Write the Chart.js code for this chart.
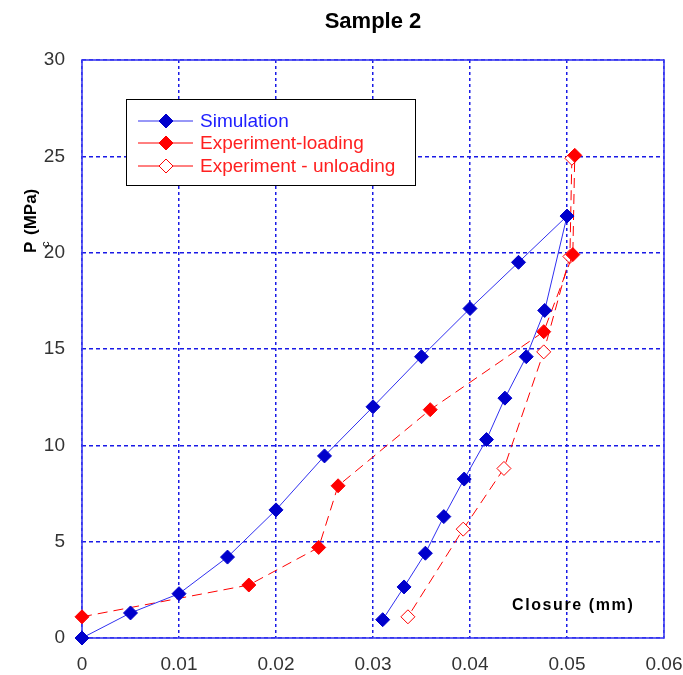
<!DOCTYPE html>
<html>
<head>
<meta charset="utf-8">
<title>Sample 2</title>
<script src="https://cdn.jsdelivr.net/npm/chart.js@4.4.0/dist/chart.umd.min.js"></script>
<style>
  html, body { margin: 0; padding: 0; background: #fff; }
  #wrap { width: 683px; height: 675px; }
</style>
</head>
<body>
<div id="wrap"><canvas id="sampleChart" width="683" height="675"></canvas></div>
<script>
// closure in mm, contact pressure in MPa
const simClosure = [0, 0.005, 0.01, 0.015, 0.02, 0.025, 0.03, 0.035, 0.04, 0.045, 0.05,
                    0.0477, 0.0458, 0.0436, 0.0417, 0.0394, 0.0373, 0.0354, 0.0332, 0.031];
const simPressure = [0, 1.3, 2.3, 4.2, 6.65, 9.45, 12, 14.6, 17.1, 19.5, 21.9,
                     17, 14.6, 12.45, 10.3, 8.25, 6.3, 4.4, 2.65, 0.95];

const loadClosure = [0, 0.0172, 0.0244, 0.0264, 0.0359, 0.0476, 0.0506, 0.0508];
const loadPressure = [1.1, 2.75, 4.7, 7.9, 11.85, 15.9, 19.9, 25.05];

const unloadClosure = [0.0505, 0.0503, 0.0476, 0.0435, 0.0393, 0.0336];
const unloadPressure = [24.9, 19.8, 14.85, 8.8, 5.65, 1.1];

const seriesNames = ['Simulation', 'Experiment-loading', 'Experiment - unloading'];
const xTickValues = [0, 0.01, 0.02, 0.03, 0.04, 0.05, 0.06];
const yTickValues = [0, 5, 10, 15, 20, 25, 30];

const BLUE = '#0000cc';
const RED = '#ff0000';
const GRID = '#1a1ae6';

function toPoints(xs, ys) {
    return xs.map((x, i) => ({ x: x, y: ys[i] }));
}

function diamond(ctx, x, y, r) {
    ctx.beginPath();
    ctx.moveTo(x, y - r);
    ctx.lineTo(x + r, y);
    ctx.lineTo(x, y + r);
    ctx.lineTo(x - r, y);
    ctx.closePath();
}

// frame, legend box and the two axis captions
const decorations = {
    id: 'decorations',
    beforeDatasetsDraw(chart) {
        const { ctx, chartArea: a } = chart;
        ctx.save();
        ctx.strokeStyle = '#3b3bf0';
        ctx.lineWidth = 1.6;
        ctx.strokeRect(a.left, a.top, a.right - a.left, a.bottom - a.top);
        ctx.restore();
    },
    afterDraw(chart) {
        const ctx = chart.ctx;
        ctx.save();

        // legend
        const box = { x: 126, y: 99, w: 289, h: 86 };
        ctx.fillStyle = '#fff';
        ctx.fillRect(box.x, box.y, box.w, box.h);
        ctx.strokeStyle = '#000';
        ctx.lineWidth = 1;
        ctx.strokeRect(box.x + 0.5, box.y + 0.5, box.w, box.h);

        const rowY = [121, 143, 166];
        const textColors = ['#2020ff', '#ff2020', '#ff2020'];
        chart.data.datasets.forEach((ds, i) => {
            const y = rowY[i];
            ctx.strokeStyle = ds.borderColor;
            ctx.lineWidth = 1;
            ctx.beginPath();
            ctx.moveTo(138, y);
            ctx.lineTo(193, y);
            ctx.stroke();

            ctx.fillStyle = ds.pointBackgroundColor;
            ctx.strokeStyle = ds.pointBorderColor;
            diamond(ctx, 166, y, ds.pointRadius);
            ctx.fill();
            ctx.stroke();

            ctx.fillStyle = textColors[i];
            ctx.font = '19px "Liberation Sans", Arial, sans-serif';
            ctx.textAlign = 'left';
            ctx.textBaseline = 'middle';
            ctx.fillText(ds.label, 200, y + 1);
        });

        // y axis caption, rotated, with subscript c
        ctx.fillStyle = '#000';
        ctx.translate(36, 253);
        ctx.rotate(-Math.PI / 2);
        ctx.textAlign = 'left';
        ctx.textBaseline = 'alphabetic';
        ctx.font = 'bold 17px "Liberation Sans", Arial, sans-serif';
        ctx.fillText('P', 0, 0);
        ctx.font = '11px "Liberation Sans", Arial, sans-serif';
        ctx.fillText('c', 6, 13);
        ctx.font = 'bold 17px "Liberation Sans", Arial, sans-serif';
        ctx.fillText('(MPa)', 18, 0);
        ctx.setTransform(1, 0, 0, 1, 0, 0);

        // x axis caption sits inside the plot
        ctx.font = 'bold 16px "Liberation Sans", Arial, sans-serif';
        if ('letterSpacing' in ctx) ctx.letterSpacing = '1.6px';
        ctx.textBaseline = 'middle';
        ctx.fillText('Closure (mm)', 512, 606);
        ctx.restore();
    }
};

const ctx = document.getElementById('sampleChart').getContext('2d');
new Chart(ctx, {
    type: 'line',
    data: {
        datasets: [{
            label: seriesNames[0],
            data: toPoints(simClosure, simPressure),
            borderColor: '#3030f0',
            borderWidth: 1,
            pointStyle: 'rectRot',
            pointRadius: 7,
            pointBackgroundColor: BLUE,
            pointBorderColor: BLUE,
            pointBorderWidth: 1,
            clip: false
        }, {
            label: seriesNames[1],
            data: toPoints(loadClosure, loadPressure),
            borderColor: RED,
            borderWidth: 1,
            borderDash: [10, 6],
            pointStyle: 'rectRot',
            pointRadius: 7,
            pointBackgroundColor: RED,
            pointBorderColor: RED,
            pointBorderWidth: 1,
            clip: false
        }, {
            label: seriesNames[2],
            data: toPoints(unloadClosure, unloadPressure),
            borderColor: RED,
            borderWidth: 1,
            borderDash: [10, 6],
            pointStyle: 'rectRot',
            pointRadius: 7,
            pointBackgroundColor: '#ffffff',
            pointBorderColor: RED,
            pointBorderWidth: 1,
            clip: false
        }]
    },
    options: {
        responsive: false,
        animation: false,
        devicePixelRatio: 1,
        layout: { padding: { left: 0, right: 19, top: 0, bottom: 0 } },
        elements: { line: { tension: 0, fill: false } },
        plugins: {
            legend: { display: false },
            tooltip: { enabled: false },
            title: {
                display: true,
                text: 'Sample 2',
                fullSize: false,
                color: '#000',
                font: { family: '"Liberation Sans", Arial, sans-serif', size: 22, weight: 'bold' },
                padding: { top: 9, bottom: 24.6 }
            }
        },
        scales: {
            x: {
                type: 'linear',
                min: 0,
                max: 0.06,
                afterBuildTicks: s => { s.ticks = xTickValues.map(v => ({ value: v })); },
                afterFit: s => { s.height = 37; s.paddingLeft = 0; s.paddingRight = 0; },
                grid: { color: GRID, lineWidth: 1.5, drawTicks: false },
                border: { display: false, dash: [3, 3] },
                ticks: {
                    autoSkip: false,
                    maxRotation: 0,
                    color: '#333',
                    padding: 15,
                    font: { family: '"Liberation Sans", Arial, sans-serif', size: 19 },
                    callback: v => String(+v.toFixed(2))
                }
            },
            y: {
                type: 'linear',
                min: 0,
                max: 30,
                afterBuildTicks: s => { s.ticks = yTickValues.map(v => ({ value: v })); },
                afterFit: s => { s.width = 82; s.paddingTop = 0; s.paddingBottom = 0; },
                grid: { color: GRID, lineWidth: 1.5, drawTicks: false },
                border: { display: false, dash: [4, 3] },
                ticks: {
                    autoSkip: false,
                    color: '#333',
                    padding: 17,
                    font: { family: '"Liberation Sans", Arial, sans-serif', size: 19 }
                }
            }
        }
    },
    plugins: [decorations]
});
</script>
</body>
</html>
